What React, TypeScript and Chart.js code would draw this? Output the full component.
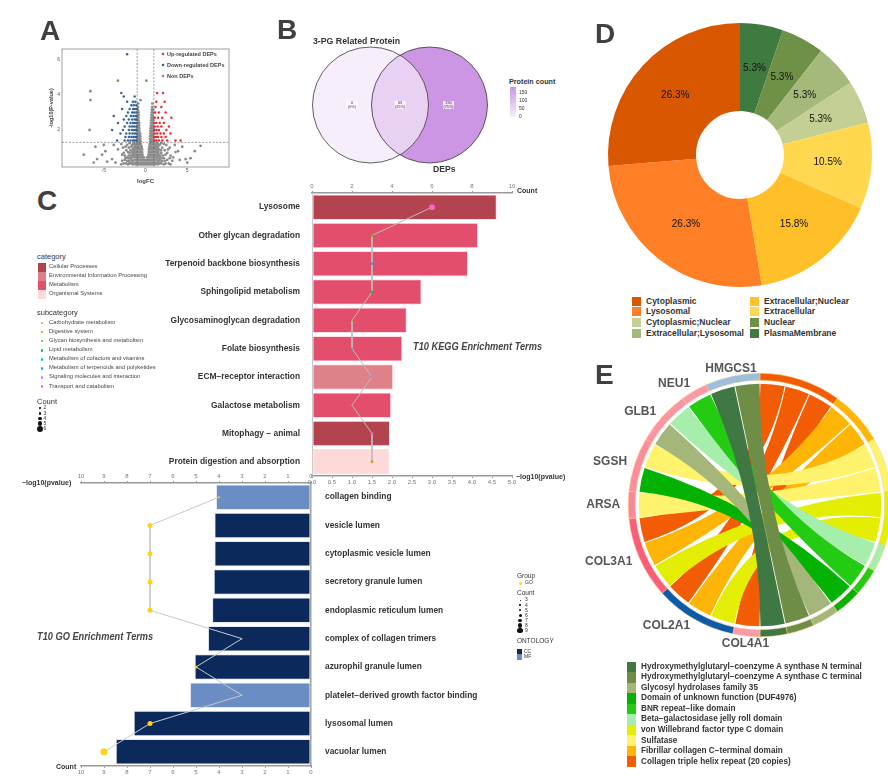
import React, { useEffect, useRef } from 'react';
import { Chart, registerables } from 'chart.js';

Chart.register(...registerables);
const FONT = '"Liberation Sans", Arial, Helvetica, sans-serif';
Chart.defaults.font.family = FONT;

// ================= A: volcano =================
const LOGFC_TICKS = [-5, 0, 5];
const NEGLOGP_TICKS = [2, 4, 6];
const LOGFC_CUTOFF = 1;
const P_CUTOFF = 1.3;
// rows: [-log10(P), logFC values]
const NON_DEP_ROWS: Array<[number, number[]]> = [
  [0.05, [-1.5, -1.2, -1.0, -0.8, -0.6, -0.45, -0.3, -0.15, 0, 0.15, 0.3, 0.45, 0.6, 0.8, 1.0, 1.2, 1.5, -2.1, 2.2, -2.9, 3.0]],
  [0.1, [-2.6, -2.3, -1.9, -1.7, 1.6, 1.9, 2.4, 2.8]],
  [0.15, [-1.4, -1.15, -0.95, -0.75, -0.55, -0.4, -0.25, -0.1, 0.05, 0.2, 0.35, 0.5, 0.7, 0.9, 1.1, 1.35, -1.9, 1.8, -3.6]],
  [0.25, [-2.8, -2.2, -2.0, -1.6, 1.55, 2.0, 2.3, 3.2]],
  [0.3, [-1.35, -1.1, -0.9, -0.7, -0.5, -0.35, -0.2, 0, 0.2, 0.35, 0.5, 0.7, 0.9, 1.1, 1.3, -1.7, 1.7, -2.5, 2.6, 4.1]],
  [0.4, [-2.4, -2.0, -1.8, 1.5, 1.9, 2.2, 2.9]],
  [0.45, [-1.3, -1.1, -0.9, -0.7, -0.5, -0.35, -0.2, 0.2, 0.35, 0.5, 0.7, 0.9, 1.1, 1.3, -1.6, 1.65, -2.2, 3.3]],
  [0.55, [-2.5, -2.0, -1.75, -1.4, 1.4, 1.8, 2.1, 3.0]],
  [0.6, [-1.25, -1.05, -0.85, -0.65, -0.5, -0.35, 0.35, 0.5, 0.65, 0.85, 1.05, 1.25, -1.55, 1.6, -2.8, 2.4, -5.2]],
  [0.7, [-2.6, -1.9, -1.45, 1.45, 1.9, 2.6]],
  [0.75, [-1.25, -1.05, -0.85, -0.7, -0.55, -0.4, 0.4, 0.55, 0.7, 0.85, 1.05, 1.25, -1.6, 1.55, -2.1, 3.6]],
  [0.85, [-2.3, -1.8, -1.4, 1.4, 1.85, 2.3]],
  [0.9, [-1.2, -1.0, -0.85, -0.7, -0.55, -0.4, 0.4, 0.55, 0.7, 0.85, 1.0, 1.2, -1.5, 1.6, -3.3, 2.7]],
  [1.0, [-2.7, -2.0, -1.4, 1.4, 2.0, 2.9]],
  [1.05, [-1.2, -1.0, -0.85, -0.7, -0.55, -0.45, 0.45, 0.55, 0.7, 0.85, 1.0, 1.2, -1.7, 1.5, -2.4, 4.4, -6.0]],
  [1.15, [-2.2, -1.6, -1.3, 1.3, 1.7, 2.5]],
  [1.2, [-1.15, -1.0, -0.85, -0.7, -0.55, 0.5, 0.6, 0.75, 0.9, 1.05, 1.2, -1.45, 1.5, -2.9, 2.2]],
  [1.25, [-1.9, -1.35, 1.35, 1.9]],
  [1.35, [-0.98, -0.85, -0.72, -0.6, 0.55, 0.65, 0.78, 0.9, 0.98]],
  [1.5, [-0.98, -0.86, -0.74, -0.62, 0.55, 0.67, 0.8, 0.92]],
  [1.65, [-0.97, -0.85, -0.73, -0.62, 0.56, 0.68, 0.8, 0.93]],
  [1.8, [-0.97, -0.85, -0.74, -0.64, 0.58, 0.7, 0.82, 0.94]],
  [1.95, [-0.96, -0.85, -0.75, 0.6, 0.72, 0.84, 0.95]],
  [2.1, [-0.96, -0.86, -0.76, 0.62, 0.74, 0.86, 0.96]],
  [2.25, [-0.95, -0.85, -0.76, 0.64, 0.76, 0.88]],
  [2.4, [-0.95, -0.84, -0.75, 0.66, 0.78, 0.9]],
  [2.55, [-0.94, -0.84, 0.68, 0.8, 0.92]],
  [2.7, [-0.94, -0.83, 0.7, 0.82, 0.93]],
  [2.85, [-0.93, -0.82, 0.72, 0.85]],
  [3.0, [-0.92, -0.82, 0.74, 0.88]],
  [3.15, [-0.9, 0.76, 0.9]],
  [3.3, [-0.9, 0.8]],
  [3.5, [-0.88, 0.82]],
  [3.7, [-6.6, -0.6]],
  [4.2, [-6.6]],
  [2.0, [-6.7]],
  [4.8, [-3.3, 0.1]],
  [0.6, [-7.4]],
  [0.4, [5.4]],
  [1.1, [6.6]],
  [0.2, [-4.6]],
  [0.35, [-5.8, 4.8, -4.0]],
  [0.8, [-4.8, 5.9, 3.9]],
  [1.15, [-3.8, -5.0, 3.5]],
  [0.15, [5.0, -6.2]],
];
const DOWN_ROWS: Array<[number, number[]]> = [
  [1.4, [-1.1, -1.3, -1.5, -1.8, -2.1, -2.5, -3.4]],
  [1.6, [-1.05, -1.25, -1.45, -1.7, -2.0, -2.4]],
  [1.8, [-1.1, -1.3, -1.55, -1.9, -2.3, -3.0]],
  [2.0, [-1.05, -1.2, -1.4, -1.65, -2.0, -2.7, -4.0]],
  [2.2, [-1.1, -1.35, -1.6, -1.9, -2.5]],
  [2.4, [-1.05, -1.25, -1.5, -1.8, -2.2, -3.3]],
  [2.6, [-1.1, -1.3, -1.6, -2.0, -2.6]],
  [2.8, [-1.05, -1.2, -1.45, -1.75, -2.3, -3.8]],
  [3.0, [-1.1, -1.35, -1.6, -2.1]],
  [3.2, [-1.05, -1.25, -1.5, -1.9, -2.8]],
  [3.4, [-1.1, -1.4, -1.7]],
  [3.6, [-1.2, -1.5, -2.2]],
  [3.9, [-1.3, -2.6]],
  [4.1, [-2.9]],
  [6.3, [-2.2]],
];
const UP_ROWS: Array<[number, number[]]> = [
  [1.4, [1.1, 1.3, 1.6, 2.0, 2.6, 3.6, 4.2]],
  [1.6, [1.05, 1.25, 1.5, 1.9, 2.4]],
  [1.8, [1.1, 1.4, 1.8, 2.2, 3.0]],
  [2.0, [1.05, 1.3, 1.6, 2.5]],
  [2.2, [1.1, 1.45, 1.9, 2.8]],
  [2.4, [1.05, 1.3, 1.7, 2.2]],
  [2.7, [1.1, 1.5, 2.0, 3.1]],
  [3.0, [1.15, 1.6, 2.4]],
  [3.3, [1.2, 1.9]],
  [3.6, [1.3, 2.3]],
  [4.1, [1.4, 2.1]],
];
const VOLCANO_LEGEND = ['Up-regulated DEPs', 'Down-regulated DEPs', 'Non DEPs'];
const VOLCANO_COLORS: Record<string, string> = {
  'Up-regulated DEPs': '#ec2b2f',
  'Down-regulated DEPs': '#35649a',
  'Non DEPs': '#8d8d8d',
};

// ================= B: venn =================
const VENN_SETS = ['3-PG Related Protein', 'DEPs'];
const VENN_COUNTS = [0, 63, 190]; // only set 1, both, only set 2
const VENN_COLORBAR_TICKS = [150, 100, 50, 0];

// ================= C: KEGG / GO =================
const KEGG_TERMS = [
  'Lysosome', 'Other glycan degradation', 'Terpenoid backbone biosynthesis', 'Sphingolipid metabolism',
  'Glycosaminoglycan degradation', 'Folate biosynthesis', 'ECM−receptor interaction', 'Galactose metabolism',
  'Mitophagy − animal', 'Protein digestion and absorption',
];
const KEGG_NEG_LOG10_P = [4.62, 4.15, 3.9, 2.74, 2.37, 2.26, 2.03, 1.98, 1.95, 1.94];
const KEGG_COUNT = [6, 3, 3, 3, 2, 2, 3, 2, 3, 3];
const KEGG_CATEGORY = [
  'Cellular Processes', 'Metabolism', 'Metabolism', 'Metabolism', 'Metabolism', 'Metabolism',
  'Environmental Information Processing', 'Metabolism', 'Cellular Processes', 'Organismal Systems',
];
const KEGG_SUBCATEGORY = [
  'Transport and catabolism', 'Glycan biosynthesis and metabolism', 'Metabolism of terpenoids and polyketides',
  'Lipid metabolism', 'Glycan biosynthesis and metabolism', 'Metabolism of cofactors and vitamins',
  'Signaling molecules and interaction', 'Carbohydrate metabolism', 'Transport and catabolism', 'Digestive system',
];
const CATEGORY_NAMES = ['Cellular Processes', 'Environmental Information Processing', 'Metabolism', 'Organismal Systems'];
const CATEGORY_COLORS = ['#b3434f', '#de8189', '#e24e6b', '#fdd9d8'];
const SUBCATEGORY_NAMES = [
  'Carbohydrate metabolism', 'Digestive system', 'Glycan biosynthesis and metabolism', 'Lipid metabolism',
  'Metabolism of cofactors and vitamins', 'Metabolism of terpenoids and polyketides',
  'Signaling molecules and interaction', 'Transport and catabolism',
];
const SUBCATEGORY_COLORS = ['#F8766D', '#CD9600', '#7CAE00', '#00BE67', '#00BFC4', '#00A9FF', '#C77CFF', '#FF61CC'];
const KEGG_COUNT_LEGEND = [2, 3, 4, 5, 6];
const KEGG_P_TICKS = [0, 0.5, 1, 1.5, 2, 2.5, 3, 3.5, 4, 4.5, 5];
const KEGG_COUNT_TICKS = [0, 2, 4, 6, 8, 10];

const GO_TERMS = [
  'collagen binding', 'vesicle lumen', 'cytoplasmic vesicle lumen', 'secretory granule lumen',
  'endoplasmic reticulum lumen', 'complex of collagen trimers', 'azurophil granule lumen',
  'platelet−derived growth factor binding', 'lysosomal lumen', 'vacuolar lumen',
];
const GO_NEG_LOG10_P = [4.13, 4.2, 4.2, 4.23, 4.3, 4.48, 5.06, 5.26, 7.71, 8.49];
const GO_COUNT = [4, 7, 7, 7, 7, 3, 5, 3, 7, 9];
const GO_ONTOLOGY = ['MF', 'CC', 'CC', 'CC', 'CC', 'CC', 'CC', 'MF', 'CC', 'CC'];
const ONTOLOGY_NAMES = ['CC', 'MF'];
const ONTOLOGY_COLORS = ['#0b2a5b', '#6a8dc4'];
const GO_GROUP_COLOR = '#ffd21a';
const GO_COUNT_LEGEND = [3, 4, 5, 6, 7, 8, 9];
const GO_TICKS = [0, 1, 2, 3, 4, 5, 6, 7, 8, 9, 10];

// ================= D: donut =================
const LOC_LABELS = [
  'PlasmaMembrane', 'Nuclear', 'Extracellular;Lysosomal', 'Cytoplasmic;Nuclear', 'Extracellular',
  'Extracellular;Nuclear', 'Lysosomal', 'Cytoplasmic',
];
const LOC_VALUES = [1, 1, 1, 1, 2, 3, 5, 5];
const LOC_COLORS = ['#3f7a41', '#6f9047', '#a5b97a', '#c4cf94', '#ffd850', '#ffbf28', '#fe7f25', '#d95700'];
const LOC_LEGEND_COL1 = ['Cytoplasmic', 'Lysosomal', 'Cytoplasmic;Nuclear', 'Extracellular;Lysosomal'];
const LOC_LEGEND_COL2 = ['Extracellular;Nuclear', 'Extracellular', 'Nuclear', 'PlasmaMembrane'];

// ================= E: chord =================
const DOMAINS = [
  'Collagen triple helix repeat (20 copies)',
  'Fibrillar collagen C−terminal domain',
  'Sulfatase',
  'von Willebrand factor type C domain',
  'Beta−galactosidase jelly roll domain',
  'BNR repeat−like domain',
  'Domain of unknown function (DUF4976)',
  'Glycosyl hydrolases family 35',
  'Hydroxymethylglutaryl−coenzyme A synthase C terminal',
  'Hydroxymethylglutaryl−coenzyme A synthase N terminal',
];
const DOMAIN_COLORS = ['#f25c05', '#ffb505', '#fff36d', '#e4ee05', '#a5eeac', '#23cc12', '#03b203', '#a5b67b', '#6e8d46', '#3f7843'];
const GENES = ['COL4A1', 'COL2A1', 'COL3A1', 'ARSA', 'SGSH', 'GLB1', 'NEU1', 'HMGCS1'];
const GENE_COLORS = ['#fd9aaa', '#0b5ba8', '#fd5c7a', '#fd8797', '#fd8d9c', '#fd94a3', '#fd98a8', '#9dbedd'];
const LINK_GENE = ['COL4A1', 'COL2A1', 'COL2A1', 'COL2A1', 'COL3A1', 'COL3A1', 'COL3A1', 'ARSA', 'SGSH', 'SGSH', 'GLB1', 'GLB1', 'NEU1', 'HMGCS1', 'HMGCS1'];
const LINK_DOMAIN = [
  'Collagen triple helix repeat (20 copies)',
  'von Willebrand factor type C domain', 'Fibrillar collagen C−terminal domain', 'Collagen triple helix repeat (20 copies)',
  'von Willebrand factor type C domain', 'Fibrillar collagen C−terminal domain', 'Collagen triple helix repeat (20 copies)',
  'Sulfatase',
  'Domain of unknown function (DUF4976)', 'Sulfatase',
  'Glycosyl hydrolases family 35', 'Beta−galactosidase jelly roll domain',
  'BNR repeat−like domain',
  'Hydroxymethylglutaryl−coenzyme A synthase N terminal', 'Hydroxymethylglutaryl−coenzyme A synthase C terminal',
];
const LINK_VALUE = [1, 1, 1, 1, 1, 1, 1, 1, 1, 1, 1, 1, 1, 1, 1];

// ================= helpers =================
const rowsToPoints = (rows: Array<[number, number[]]>) => rows.flatMap(([y, xs]) => xs.map((x) => ({ x, y })));
const keggDot = (c: number) => 0.8 + (c - 2) * 0.55;
const goDot = (c: number) => 0.5 + (c - 3) * 0.5;
const fixedTicks = (vals: number[]) => (s: any) => { s.ticks = vals.map((v) => ({ value: v })); };

function mix(a: string, b: string, t: number) {
  const pa = [1, 3, 5].map((i) => parseInt(a.slice(i, i + 2), 16));
  const pb = [1, 3, 5].map((i) => parseInt(b.slice(i, i + 2), 16));
  return `rgb(${pa.map((v, i) => Math.round(v + (pb[i] - v) * t)).join(',')})`;
}
const VENN_LOW = '#f6eefb';
const VENN_HIGH = '#cc96e4';
const vennColor = (c: number) => mix(VENN_LOW, VENN_HIGH, c / Math.max(...VENN_COUNTS));

const axisGrey = '#9a9a9a';

// ================= configs =================
const volcanoDeco = {
  id: 'volcanoDeco',
  afterDatasetsDraw(chart: any) {
    const { ctx, chartArea: a, scales } = chart;
    const x = scales.x, y = scales.y;
    ctx.save();
    ctx.strokeStyle = '#555';
    ctx.lineWidth = 0.6;
    ctx.setLineDash([2, 1.5]);
    [-LOGFC_CUTOFF, LOGFC_CUTOFF].forEach((v) => {
      const px = x.getPixelForValue(v);
      ctx.beginPath(); ctx.moveTo(px, a.top); ctx.lineTo(px, a.bottom); ctx.stroke();
    });
    const py = y.getPixelForValue(P_CUTOFF);
    ctx.beginPath(); ctx.moveTo(a.left, py); ctx.lineTo(a.right, py); ctx.stroke();
    ctx.setLineDash([]);
    ctx.strokeStyle = '#a0a0a0';
    ctx.lineWidth = 1;
    ctx.strokeRect(a.left, a.top, a.width, a.height);
    ctx.font = `bold 5.5px ${FONT}`;
    ctx.textBaseline = 'middle';
    VOLCANO_LEGEND.forEach((name, i) => {
      const cy = a.top + 5 + i * 11;
      ctx.fillStyle = VOLCANO_COLORS[name];
      ctx.beginPath(); ctx.arc(a.left + 101, cy, 1.3, 0, Math.PI * 2); ctx.fill();
      ctx.fillStyle = '#444';
      ctx.fillText(name, a.left + 105, cy);
    });
    ctx.restore();
  },
};

function volcanoConfig(): any {
  return {
    type: 'scatter',
    data: {
      datasets: [
        { label: 'Non DEPs', data: rowsToPoints(NON_DEP_ROWS), backgroundColor: VOLCANO_COLORS['Non DEPs'], pointRadius: 1.4, borderWidth: 0, order: 2 },
        { label: 'Down-regulated DEPs', data: rowsToPoints(DOWN_ROWS), backgroundColor: VOLCANO_COLORS['Down-regulated DEPs'], pointRadius: 1.25, borderWidth: 0, order: 1 },
        { label: 'Up-regulated DEPs', data: rowsToPoints(UP_ROWS), backgroundColor: VOLCANO_COLORS['Up-regulated DEPs'], pointRadius: 1.25, borderWidth: 0, order: 1 },
      ],
    },
    options: {
      responsive: false, animation: false, events: [],
      layout: { padding: { left: 8, top: 9, right: 11, bottom: 0 } },
      plugins: { legend: { display: false }, tooltip: { enabled: false } },
      scales: {
        x: {
          min: -10, max: 10, afterBuildTicks: fixedTicks(LOGFC_TICKS),
          ticks: { font: { size: 5 }, color: '#555', padding: 1, maxRotation: 0 },
          grid: { display: false, drawTicks: false }, border: { display: false },
          title: { display: true, text: 'logFC', font: { size: 6, weight: 'bold' }, color: '#444', padding: 0 },
          afterFit: (s: any) => { s.height = 18; },
        },
        y: {
          min: -0.1, max: 6.6, afterBuildTicks: fixedTicks(NEGLOGP_TICKS),
          ticks: { font: { size: 5 }, color: '#555', padding: 2 },
          grid: { display: false, drawTicks: false }, border: { display: false },
          title: { display: true, text: '-log10(P-value)', font: { size: 5.5, weight: 'bold' }, color: '#444', padding: 0 },
          afterFit: (s: any) => { s.width = 14; },
        },
      },
    },
    plugins: [volcanoDeco],
  };
}

const VENN_GEOM = [
  { cx: 70.5, cy: 65, r: 58 },
  { cx: 129.5, cy: 65, r: 58 },
];
const VENN_LABEL_X = [52, 100, 148.5];
const vennPlugin = {
  id: 'vennDraw',
  afterDatasetsDraw(chart: any) {
    const { ctx, scales } = chart;
    const px = (v: number) => scales.x.getPixelForValue(v);
    const py = (v: number) => scales.y.getPixelForValue(v);
    const circ = (c: any) => {
      ctx.beginPath();
      ctx.arc(px(c.cx), py(c.cy), Math.abs(px(c.cx + c.r) - px(c.cx)), 0, Math.PI * 2);
    };
    const [L, R] = VENN_GEOM;
    ctx.save();
    circ(L); ctx.fillStyle = vennColor(VENN_COUNTS[0]); ctx.fill();
    circ(R); ctx.fillStyle = vennColor(VENN_COUNTS[2]); ctx.fill();
    ctx.save(); circ(L); ctx.clip(); circ(R); ctx.fillStyle = vennColor(VENN_COUNTS[1]); ctx.fill(); ctx.restore();
    ctx.strokeStyle = '#3a3a3a'; ctx.lineWidth = 0.8;
    circ(L); ctx.stroke(); circ(R); ctx.stroke();
    const total = VENN_COUNTS.reduce((a, b) => a + b, 0);
    ctx.textAlign = 'center'; ctx.textBaseline = 'middle';
    VENN_COUNTS.forEach((c, i) => {
      const x = px(VENN_LABEL_X[i]);
      const y = py(65);
      ctx.fillStyle = 'rgba(255,255,255,0.75)';
      ctx.fillRect(x - 5.5, y - 4, 11, 8);
      ctx.fillStyle = '#333';
      ctx.font = `3.8px ${FONT}`;
      ctx.fillText(String(c), x, y - 1.7);
      ctx.fillText(`(${Math.round((c / total) * 100)}%)`, x, y + 1.9);
    });
    ctx.restore();
  },
};
function vennConfig(): any {
  return {
    type: 'scatter',
    data: { datasets: [{ data: [], pointRadius: 0 }] },
    options: {
      responsive: false, animation: false, events: [],
      layout: { padding: 0 },
      plugins: { legend: { display: false }, tooltip: { enabled: false } },
      scales: {
        x: { display: false, min: 0, max: 200 },
        y: { display: false, min: 0, max: 135, reverse: true },
      },
    },
    plugins: [vennPlugin],
  };
}

const tickStyle = { font: { size: 6 }, color: '#777', padding: 1, maxRotation: 0, autoSkip: false };
const gridTicksOnly = { display: true, drawOnChartArea: false, drawTicks: true, tickLength: 2, color: axisGrey };
const axisBorder = { display: true, color: axisGrey, width: 1.5 };

function keggConfig(): any {
  return {
    type: 'bar',
    data: {
      labels: KEGG_TERMS,
      datasets: [
        {
          type: 'bar', data: KEGG_NEG_LOG10_P, xAxisID: 'x', yAxisID: 'y', order: 2,
          backgroundColor: KEGG_CATEGORY.map((c) => CATEGORY_COLORS[CATEGORY_NAMES.indexOf(c)]),
          borderColor: 'rgba(255,220,226,0.9)', borderWidth: 1, borderSkipped: false,
          barPercentage: 0.9, categoryPercentage: 1,
        },
        {
          type: 'line', indexAxis: 'y', data: KEGG_COUNT, xAxisID: 'x2', yAxisID: 'y', order: 1,
          borderColor: '#bdbdbd', borderWidth: 1, tension: 0,
          pointRadius: KEGG_COUNT.map(keggDot), pointBorderWidth: 0,
          pointBackgroundColor: KEGG_SUBCATEGORY.map((s) => SUBCATEGORY_COLORS[SUBCATEGORY_NAMES.indexOf(s)]),
        },
      ],
    },
    options: {
      indexAxis: 'y', responsive: false, animation: false, events: [],
      layout: { padding: { right: 38 } },
      plugins: { legend: { display: false }, tooltip: { enabled: false } },
      scales: {
        x: {
          axis: 'x', position: 'bottom', min: 0, max: 5, afterBuildTicks: fixedTicks(KEGG_P_TICKS),
          ticks: { ...tickStyle, callback: (v: any) => Number(v).toFixed(1) },
          grid: gridTicksOnly, border: axisBorder, afterFit: (s: any) => { s.height = 19; },
        },
        x2: {
          axis: 'x', position: 'top', min: 0, max: 10, afterBuildTicks: fixedTicks(KEGG_COUNT_TICKS),
          ticks: tickStyle, grid: gridTicksOnly, border: axisBorder, afterFit: (s: any) => { s.height = 23; },
        },
        y: {
          ticks: { font: { size: 8.4, weight: 'bold' }, color: '#333', padding: 4, autoSkip: false },
          grid: { display: false }, border: { display: true, color: '#c4c4c4', width: 1 },
          afterFit: (s: any) => { s.width = 162; },
        },
      },
    },
  };
}

function goConfig(): any {
  return {
    type: 'bar',
    data: {
      labels: GO_TERMS,
      datasets: [
        {
          type: 'bar', data: GO_NEG_LOG10_P, xAxisID: 'x', yAxisID: 'y', order: 2,
          backgroundColor: GO_ONTOLOGY.map((o) => ONTOLOGY_COLORS[ONTOLOGY_NAMES.indexOf(o)]),
          borderColor: 'rgba(220,228,240,0.8)', borderWidth: 1, borderSkipped: false,
          barPercentage: 0.9, categoryPercentage: 1,
        },
        {
          type: 'line', indexAxis: 'y', data: GO_COUNT, xAxisID: 'x2', yAxisID: 'y', order: 1,
          borderColor: '#c9c9c9', borderWidth: 1, tension: 0,
          pointRadius: GO_COUNT.map(goDot), pointBorderWidth: 0, pointBackgroundColor: GO_GROUP_COLOR,
        },
      ],
    },
    options: {
      indexAxis: 'y', responsive: false, animation: false, events: [],
      layout: { padding: { left: 71 } },
      plugins: { legend: { display: false }, tooltip: { enabled: false } },
      scales: {
        x: {
          axis: 'x', position: 'top', reverse: true, min: 0, max: 10, afterBuildTicks: fixedTicks(GO_TICKS),
          ticks: tickStyle, grid: gridTicksOnly, border: axisBorder, afterFit: (s: any) => { s.height = 18; },
        },
        x2: {
          axis: 'x', position: 'bottom', reverse: true, min: 0, max: 10, afterBuildTicks: fixedTicks(GO_TICKS),
          ticks: tickStyle, grid: gridTicksOnly, border: axisBorder, afterFit: (s: any) => { s.height = 15; },
        },
        y: {
          position: 'right',
          ticks: { font: { size: 8.4, weight: 'bold' }, color: '#333', padding: 6, autoSkip: false },
          grid: { display: false }, border: { display: true, color: axisGrey, width: 1.5 },
          afterFit: (s: any) => { s.width = 229; },
        },
      },
    },
  };
}

const donutLabels = {
  id: 'donutLabels',
  afterDatasetsDraw(chart: any) {
    const { ctx } = chart;
    const data = chart.data.datasets[0].data as number[];
    const total = data.reduce((a, b) => a + b, 0);
    ctx.save();
    ctx.font = `10px ${FONT}`;
    ctx.fillStyle = '#111';
    ctx.textAlign = 'center';
    ctx.textBaseline = 'middle';
    chart.getDatasetMeta(0).data.forEach((arc: any, i: number) => {
      const mid = (arc.startAngle + arc.endAngle) / 2;
      const r = (arc.innerRadius + arc.outerRadius) / 2;
      ctx.fillText(`${((data[i] / total) * 100).toFixed(1)}%`, arc.x + r * Math.cos(mid), arc.y + r * Math.sin(mid));
    });
    ctx.restore();
  },
};
function donutConfig(): any {
  return {
    type: 'doughnut',
    data: { labels: LOC_LABELS, datasets: [{ data: LOC_VALUES, backgroundColor: LOC_COLORS, borderWidth: 0 }] },
    options: {
      responsive: false, animation: false, events: [], cutout: '33.3%',
      layout: { padding: 8 },
      plugins: { legend: { display: false }, tooltip: { enabled: false } },
    },
    plugins: [donutLabels],
  };
}

const chordPlugin = {
  id: 'chordRibbons',
  afterDatasetsDraw(chart: any) {
    const arcs = chart.getDatasetMeta(0).data as any[];
    if (!arcs.length) return;
    const { ctx } = chart;
    const cx = arcs[0].x, cy = arcs[0].y;
    const R = arcs[0].innerRadius - 3.5;
    const nD = DOMAINS.length;
    const dIdx = (li: number) => DOMAINS.indexOf(LINK_DOMAIN[li]);
    const gIdx = (li: number) => GENES.indexOf(LINK_GENE[li]);
    const allLinks = LINK_GENE.map((_, i) => i);
    const gap = 0.004;
    const assign = (arc: any, links: number[], out: Map<number, [number, number]>) => {
      const tot = links.reduce((a, li) => a + LINK_VALUE[li], 0);
      let a = arc.startAngle;
      links.forEach((li) => {
        const span = ((arc.endAngle - arc.startAngle) * LINK_VALUE[li]) / tot;
        out.set(li, [a + gap, a + span - gap]);
        a += span;
      });
    };
    const gSlots = new Map<number, [number, number]>();
    const dSlots = new Map<number, [number, number]>();
    GENES.forEach((_, gi) => {
      const links = allLinks.filter((li) => gIdx(li) === gi).sort((a, b) => dIdx(b) - dIdx(a));
      assign(arcs[nD + gi], links, gSlots);
    });
    DOMAINS.forEach((_, di) => {
      const links = allLinks.filter((li) => dIdx(li) === di).sort((a, b) => gIdx(b) - gIdx(a));
      assign(arcs[di], links, dSlots);
    });
    ctx.save();
    allLinks
      .slice()
      .sort((a, b) => dIdx(a) - dIdx(b))
      .forEach((li) => {
        const [a0, a1] = gSlots.get(li)!;
        const [b0, b1] = dSlots.get(li)!;
        ctx.beginPath();
        ctx.arc(cx, cy, R, a0, a1);
        ctx.quadraticCurveTo(cx, cy, cx + R * Math.cos(b0), cy + R * Math.sin(b0));
        ctx.arc(cx, cy, R, b0, b1);
        ctx.quadraticCurveTo(cx, cy, cx + R * Math.cos(a0), cy + R * Math.sin(a0));
        ctx.closePath();
        ctx.fillStyle = DOMAIN_COLORS[dIdx(li)];
        ctx.fill();
      });
    // gene labels
    ctx.font = `bold 12px ${FONT}`;
    ctx.fillStyle = '#555';
    ctx.textBaseline = 'middle';
    GENES.forEach((g, gi) => {
      const arc = arcs[nD + gi];
      const mid = (arc.startAngle + arc.endAngle) / 2;
      const r = arc.outerRadius + 8;
      const c = Math.cos(mid);
      ctx.textAlign = Math.abs(c) < 0.35 ? 'center' : c < 0 ? 'right' : 'left';
      ctx.fillText(g, cx + r * c, cy + r * Math.sin(mid));
    });
    ctx.restore();
  },
};
function chordConfig(): any {
  const sectorValues = [
    ...DOMAINS.map((d) => LINK_DOMAIN.reduce((a, ld, i) => a + (ld === d ? LINK_VALUE[i] : 0), 0)),
    ...GENES.map((g) => LINK_GENE.reduce((a, lg, i) => a + (lg === g ? LINK_VALUE[i] : 0), 0)),
  ];
  return {
    type: 'doughnut',
    data: {
      labels: [...DOMAINS, ...GENES],
      datasets: [{
        data: sectorValues,
        backgroundColor: [...DOMAIN_COLORS, ...GENE_COLORS],
        borderWidth: 0.5, borderColor: '#f3cf7a',
      }],
    },
    options: {
      responsive: false, animation: false, events: [], cutout: '94.7%',
      layout: { padding: { left: 48, right: 48, top: 23, bottom: 23 } },
      plugins: { legend: { display: false }, tooltip: { enabled: false } },
    },
    plugins: [chordPlugin],
  };
}

// ================= components =================
function ChartCanvas({ x, y, w, h, config }: { x: number; y: number; w: number; h: number; config: () => any }) {
  const ref = useRef<HTMLCanvasElement | null>(null);
  useEffect(() => {
    if (!ref.current) return;
    const chart = new Chart(ref.current, config());
    return () => chart.destroy();
  }, []);
  return <canvas ref={ref} width={w} height={h} style={{ position: 'absolute', left: x, top: y, width: w, height: h }} />;
}

function Txt({ x, y, s, b, it, c = '#333', right, sx, children }: any) {
  const style: any = {
    position: 'absolute', top: y - s * 0.52, fontSize: s, lineHeight: `${s}px`,
    fontWeight: b ? 700 : 400, fontStyle: it ? 'italic' : 'normal', color: c,
    whiteSpace: 'nowrap', fontFamily: FONT,
  };
  if (right) style.right = 888 - x; else style.left = x;
  if (sx) { style.transform = `scaleX(${sx})`; style.transformOrigin = 'left center'; }
  return <div style={style}>{children}</div>;
}

function Letter({ x, capTop, ch }: { x: number; capTop: number; ch: string }) {
  return (
    <div style={{ position: 'absolute', left: x, top: capTop - 0.1305 * 28, fontSize: 28, lineHeight: '28px', fontWeight: 700, color: '#404040', fontFamily: FONT }}>
      {ch}
    </div>
  );
}

function Box({ x, y, w, h, c, round }: any) {
  return <div style={{ position: 'absolute', left: x, top: y, width: w, height: h, background: c, borderRadius: round ? '50%' : 0 }} />;
}

export default function App() {
  return (
    <div style={{ position: 'absolute', left: 0, top: 0, width: 888, height: 782, overflow: 'hidden', background: '#fff', fontFamily: FONT }}>
      {/* A */}
      <ChartCanvas x={40} y={40} w={200} h={145} config={volcanoConfig} />
      <Letter x={40} capTop={21} ch="A" />

      {/* B */}
      <ChartCanvas x={300} y={40} w={200} h={135} config={vennConfig} />
      <Letter x={277} capTop={20} ch="B" />
      <Txt x={313} y={42} s={8.75} b c="#333">{VENN_SETS[0]}</Txt>
      <Txt x={433} y={169} s={8.6} b c="#333">{VENN_SETS[1]}</Txt>
      <Txt x={509} y={82} s={7.2} b c="#333">Protein count</Txt>
      <div style={{ position: 'absolute', left: 510, top: 87, width: 6, height: 30, background: `linear-gradient(${VENN_HIGH}, ${VENN_LOW})` }} />
      {VENN_COLORBAR_TICKS.map((t) => (
        <Txt key={t} x={519} y={117 - t * 0.16} s={5} c="#333">{t}</Txt>
      ))}

      {/* C: KEGG */}
      <Letter x={37} capTop={191} ch="C" />
      <ChartCanvas x={150} y={170} w={400} h={325} config={keggConfig} />
      <Txt x={517} y={191} s={7} b c="#333">Count</Txt>
      <Txt x={516} y={477} s={7} b c="#333">−log10(pvalue)</Txt>
      <Txt x={413} y={347} s={11} b it c="#444" sx={0.84}>T10 KEGG Enrichment Terms</Txt>

      <Txt x={37} y={257} s={7.5} c="#333">category</Txt>
      {CATEGORY_NAMES.map((n, i) => (
        <React.Fragment key={n}>
          <Box x={38} y={263 + 9 * i} w={8} h={9} c={CATEGORY_COLORS[i]} />
          <Txt x={49} y={267.5 + 9 * i} s={5.8} c="#444">{n}</Txt>
        </React.Fragment>
      ))}
      <Txt x={37} y={313} s={7.5} c="#333">subcategory</Txt>
      {SUBCATEGORY_NAMES.map((n, i) => (
        <React.Fragment key={n}>
          <Box x={40.5} y={322 + 9.05 * i} w={2.4} h={2.4} c={SUBCATEGORY_COLORS[i]} round />
          <Txt x={49} y={323.2 + 9.05 * i} s={5.8} c="#444">{n}</Txt>
        </React.Fragment>
      ))}
      <Txt x={37} y={402} s={7.5} c="#333">Count</Txt>
      {KEGG_COUNT_LEGEND.map((c, i) => {
        const r = keggDot(c);
        return (
          <React.Fragment key={c}>
            <Box x={40 - r} y={408 + 5.2 * i - r} w={2 * r} h={2 * r} c="#111" round />
            <Txt x={43.5} y={408 + 5.2 * i} s={5} c="#333">{c}</Txt>
          </React.Fragment>
        );
      })}

      {/* C: GO */}
      <ChartCanvas x={10} y={465} w={530} h={316} config={goConfig} />
      <Txt x={22} y={483} s={7} b c="#333">−log10(pvalue)</Txt>
      <Txt x={56} y={767} s={7} b c="#333">Count</Txt>
      <Txt x={37} y={637} s={11} b it c="#444" sx={0.84}>T10 GO Enrichment Terms</Txt>
      <Txt x={517} y={576} s={6.5} c="#333">Group</Txt>
      <Box x={518.5} y={581.5} w={3} h={3} c={GO_GROUP_COLOR} round />
      <Txt x={525} y={583} s={5} c="#333">GO</Txt>
      <Txt x={517} y={593} s={6.5} c="#333">Count</Txt>
      {GO_COUNT_LEGEND.map((c, i) => {
        const r = goDot(c) * 0.75;
        return (
          <React.Fragment key={c}>
            <Box x={520 - r} y={600 + 5.1 * i - r} w={2 * r} h={2 * r} c="#111" round />
            <Txt x={525} y={600 + 5.1 * i} s={5} c="#333">{c}</Txt>
          </React.Fragment>
        );
      })}
      <Txt x={517} y={641} s={6.5} c="#333">ONTOLOGY</Txt>
      {ONTOLOGY_NAMES.map((n, i) => (
        <React.Fragment key={n}>
          <Box x={517} y={648.5 + 5.5 * i} w={5} h={5.5} c={ONTOLOGY_COLORS[i]} />
          <Txt x={524} y={651.2 + 5.5 * i} s={5} c="#333">{n}</Txt>
        </React.Fragment>
      ))}

      {/* D */}
      <ChartCanvas x={600} y={15} w={280} h={280} config={donutConfig} />
      <Letter x={595} capTop={24} ch="D" />
      {[LOC_LEGEND_COL1, LOC_LEGEND_COL2].map((col, ci) =>
        col.map((n, i) => (
          <React.Fragment key={n}>
            <Box x={ci === 0 ? 632 : 750} y={296.5 + 10.7 * i} w={9} h={9} c={LOC_COLORS[LOC_LABELS.indexOf(n)]} />
            <Txt x={ci === 0 ? 646 : 764} y={301 + 10.7 * i} s={8.5} b c="#333">{n}</Txt>
          </React.Fragment>
        ))
      )}

      {/* E */}
      <ChartCanvas x={580} y={350} w={360} h={310} config={chordConfig} />
      <Letter x={595} capTop={365} ch="E" />
      {DOMAINS.slice().reverse().map((n, i) => (
        <React.Fragment key={n}>
          <Box x={627} y={661.5 + 10.55 * i} w={9} h={10.55} c={DOMAIN_COLORS[DOMAINS.length - 1 - i]} />
          <Txt x={641} y={667 + 10.55 * i} s={8.2} b c="#333">{n}</Txt>
        </React.Fragment>
      ))}
    </div>
  );
}
